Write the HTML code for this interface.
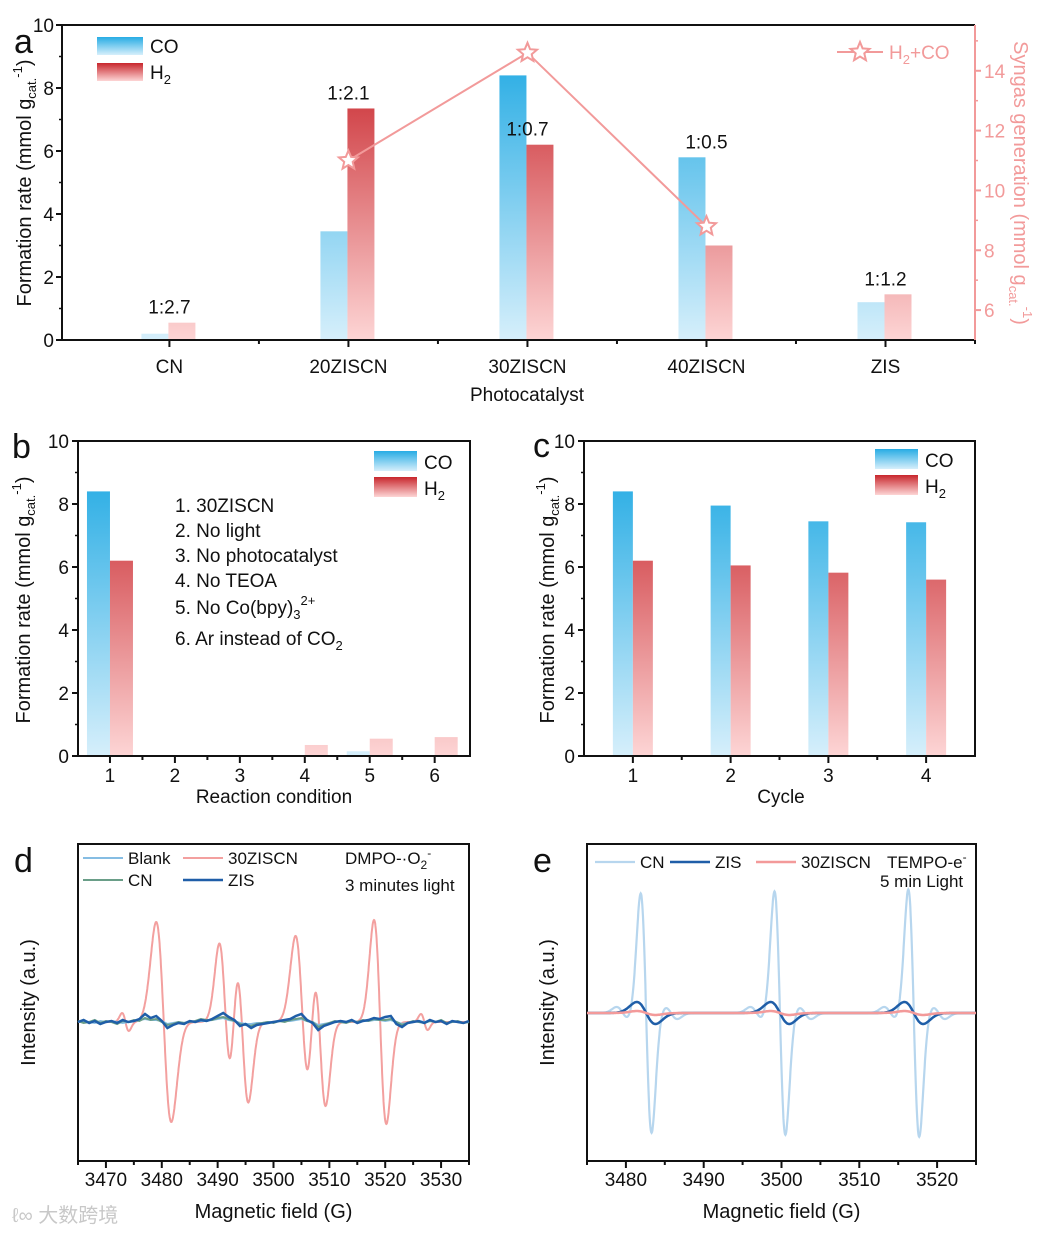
<!DOCTYPE html>
<html><head><meta charset="utf-8"><style>
html,body{margin:0;padding:0;background:#fff;}
svg{display:block;font-family:"Liberation Sans","Noto Sans CJK SC",sans-serif;}
</style></head><body>
<svg id="fig" width="1043" height="1235" viewBox="0 0 1043 1235" xmlns="http://www.w3.org/2000/svg">
<defs>
<linearGradient id="coGradA" gradientUnits="userSpaceOnUse" x1="0" y1="56" x2="0" y2="340"><stop offset="0" stop-color="#27ace4"/><stop offset="1" stop-color="#d6effb"/></linearGradient>
<linearGradient id="h2GradA" gradientUnits="userSpaceOnUse" x1="0" y1="56" x2="0" y2="340"><stop offset="0" stop-color="#c8262c"/><stop offset="1" stop-color="#fdd5d5"/></linearGradient>
<linearGradient id="coGradB" gradientUnits="userSpaceOnUse" x1="0" y1="472" x2="0" y2="756"><stop offset="0" stop-color="#27ace4"/><stop offset="1" stop-color="#d6effb"/></linearGradient>
<linearGradient id="h2GradB" gradientUnits="userSpaceOnUse" x1="0" y1="472" x2="0" y2="756"><stop offset="0" stop-color="#c8262c"/><stop offset="1" stop-color="#fdd5d5"/></linearGradient>
<linearGradient id="coGrad" x1="0" y1="0" x2="0" y2="1"><stop offset="0" stop-color="#27ace4"/><stop offset="1" stop-color="#d6effb"/></linearGradient>
<linearGradient id="h2Grad" x1="0" y1="0" x2="0" y2="1"><stop offset="0" stop-color="#c8262c"/><stop offset="1" stop-color="#fdd5d5"/></linearGradient>
</defs>
</svg>
<script>
// ---------- data ----------
const aCats = ['CN','20ZISCN','30ZISCN','40ZISCN','ZIS'];
const aCO = [0.2, 3.45, 8.4, 5.8, 1.2];
const aH2 = [0.55, 7.35, 6.2, 3.0, 1.45];
const aRatio = ['1:2.7','1:2.1','1:0.7','1:0.5','1:1.2'];
const aSynCats = [1, 2, 3];
const aSyn = [11.0, 14.6, 8.8];
const aYTicks = [0, 2, 4, 6, 8, 10];
const aY2Ticks = [6, 8, 10, 12, 14];

const bCats = ['1','2','3','4','5','6'];
const bCO = [8.4, 0, 0, 0, 0.15, 0];
const bH2 = [6.2, 0, 0, 0.35, 0.55, 0.6];
const bList = ['1. 30ZISCN','2. No light','3. No photocatalyst','4. No TEOA','5. No Co(bpy)','6. Ar instead of CO'];

const cCats = ['1','2','3','4'];
const cCO = [8.4, 7.95, 7.45, 7.42];
const cH2 = [6.2, 6.05, 5.82, 5.6];

const dXTicks = [3470,3480,3490,3500,3510,3520,3530];
const dRedCenters = [3473.5, 3480.35, 3491.4, 3494.4, 3505.2, 3508.3, 3519.1, 3527.0];
const dRedAmps    = [9, 100, 78, 80, 86, 82, 102, 8];
const dRedWidths  = [0.6, 1.35, 1.1, 1.1, 1.25, 1.05, 1.1, 0.6];
const dZIS = [0,2,-1,1,-2,0,1,-1,2,0,1,3, 8,4,6,1,-6,-3,-1,-2,1,0,2, 1,3,6,9,5,2,-4,-2,-6,-3,-2, -1,0,1,2,3,6,8,2,-1,-8,-4, -2,0,1,0,2,-1,1,2,4,3,5, 6,-2,-5,-1,0,1,-1,2,0,1,-2,1,0,-1,1];
const dCN  = [1,-1,0,2,-1,1,0,-2,1,0,2,1, 4,2,3,0,-3,-2,0,-1,0,1,3, 2,2,4,5,3,1,-2,-3,-4,-2,-1, 0,-1,1,0,2,3,4,1,0,-5,-3, -1,1,0,-1,1,0,2,1,3,2,2, 3,0,-3,-1,1,0,-1,1,0,2,-1,0,1,-1,0];
const dBlank=[0,1,0,-1,1,0,1,0,-1,0,1,2, 3,2,2,1,-2,-1,0,-1,1,0,1, 1,2,3,4,2,1,-1,-2,-2,-1,-1, 0,0,1,1,1,2,3,1,0,-3,-2, -1,0,1,0,1,0,1,1,2,2,1, 2,0,-2,-1,0,1,0,1,0,1,-1,0,0,-1,0];

const eXTicks = [3480,3490,3500,3510,3520];
const eCNCenters = [3479.6,3482.6,3485.8, 3496.8,3499.8,3503.0, 3514.0,3517.0,3520.2];
const eCNAmps    = [6,120,6, 6,122,6, 6,124,6];
const eCNWidths  = [0.8,0.7,0.8, 0.8,0.7,0.8, 0.8,0.7,0.8];
const eZISCenters = [3482.6, 3499.8, 3517.0];
const eZISAmps = [11, 11, 11];
const eRedAmps = [2, 2, 2];

// ---------- helpers ----------
const svg = document.getElementById('fig');
const NS = 'http://www.w3.org/2000/svg';
function mk(tag, attrs, parent){
  const e = document.createElementNS(NS, tag);
  for (const k in attrs) e.setAttribute(k, attrs[k]);
  (parent || svg).appendChild(e);
  return e;
}
function txt(x, y, s, size, extra, parent){
  const t = mk('text', Object.assign({x:x, y:y, 'font-size':size, fill:'#111'}, extra||{}), parent);
  t.textContent = s;
  return t;
}
function dG(x, c, a, s){ const d=(x-c)/s; return a*(-d*Math.exp(-d*d/2))/0.6065; }

// ---------- panel a ----------
const A = {l:62, r:975, t:25, b:340};
const yA = v => A.b - v/10*(A.b-A.t);
const y2A = v => A.b - (v-5)/10.53*(A.b-A.t);
const xA = v => A.l + (v+0.6)/5.1*(A.r-A.l);
const ga = mk('g', {});


let e;
e = txt(14, 53, 'a', 34, {}, ga);


aCats.forEach((c,i)=>{
  const cx = xA(i);
  let r = mk('rect',{x:cx-28, y:yA(aCO[i]), width:27, height:yA(0)-yA(aCO[i]), fill:'url(#coGradA)'}, ga);
  
  
  r = mk('rect',{x:cx-1, y:yA(aH2[i]), width:27, height:yA(0)-yA(aH2[i]), fill:'url(#h2GradA)'}, ga);
  
  
  const top = aH2[i] >= aCO[i]*0.7 ? aH2[i] : aCO[i];
  const t = txt(cx, yA(top)-9, aRatio[i], 19, {'text-anchor':'middle'}, ga);
  
  
  const lab = txt(cx, 373, c, 19, {'text-anchor':'middle'}, ga);
  
  
  mk('line',{x1:cx,y1:A.b,x2:cx,y2:A.b+7,stroke:'#111','stroke-width':2}, ga);
  if(i<4) mk('line',{x1:(xA(i)+xA(i+1))/2,y1:A.b,x2:(xA(i)+xA(i+1))/2,y2:A.b+4,stroke:'#111','stroke-width':2}, ga);
});
mk('line',{x1:A.r,y1:A.b,x2:A.r,y2:A.b+4,stroke:'#111','stroke-width':2}, ga);
const synPts = aSynCats.map((c,k)=>[xA(c), y2A(aSyn[k])]);
e = mk('polyline',{points:synPts.map(p=>p.join(',')).join(' '), fill:'none', stroke:'#f29a9a','stroke-width':2}, ga);


function star(cx, cy, R, parent){
  let p=[]; for(let k=0;k<10;k++){ const rr = k%2? R*0.45:R; const a=-Math.PI/2+k*Math.PI/5; p.push((cx+rr*Math.cos(a)).toFixed(1)+','+(cy+rr*Math.sin(a)).toFixed(1)); }
  return mk('polygon',{points:p.join(' '), fill:'#fff', stroke:'#f29a9a','stroke-width':2}, parent);
}
synPts.forEach((p,k)=>{
  const s = star(p[0], p[1], 10, ga);
  
  
});
mk('line',{x1:A.l,y1:A.t,x2:A.r,y2:A.t,stroke:'#111','stroke-width':2}, ga);
e = mk('line',{x1:A.l,y1:A.t,x2:A.l,y2:A.b,stroke:'#111','stroke-width':2}, ga);


e = mk('line',{x1:A.l-1,y1:A.b,x2:A.r+1,y2:A.b,stroke:'#111','stroke-width':2}, ga);


e = mk('line',{x1:A.r,y1:A.t,x2:A.r,y2:A.b,stroke:'#f29a9a','stroke-width':2}, ga);


aYTicks.forEach(v=>{
  mk('line',{x1:A.l-6,y1:yA(v),x2:A.l,y2:yA(v),stroke:'#111','stroke-width':2}, ga);
  if(v<10) mk('line',{x1:A.l-3,y1:yA(v+1),x2:A.l,y2:yA(v+1),stroke:'#111','stroke-width':1.5}, ga);
  const t = txt(A.l-8, yA(v)+7, String(v), 19, {'text-anchor':'end'}, ga);
  
  
});
aY2Ticks.forEach(v=>{
  mk('line',{x1:A.r,y1:y2A(v),x2:A.r+6,y2:y2A(v),stroke:'#f29a9a','stroke-width':2}, ga);
  mk('line',{x1:A.r,y1:y2A(v+1),x2:A.r+3,y2:y2A(v+1),stroke:'#f29a9a','stroke-width':1.5}, ga);
  const t = txt(A.r+9, y2A(v)+7, String(v), 19, {fill:'#f29a9a'}, ga);
  
  
});
e = txt(527, 401, 'Photocatalyst', 19, {'text-anchor':'middle'}, ga);


function yTitle(x, y, parent, name){
  const t = mk('text',{x:0,y:0,'font-size':20,fill:'#111','text-anchor':'middle',transform:`translate(${x},${y}) rotate(-90)`}, parent);
  t.innerHTML = 'Formation rate (mmol g<tspan font-size="13" dy="5">cat.</tspan><tspan font-size="13" dy="-14">-1</tspan><tspan dy="9">)</tspan>';
  
  
  return t;
}
yTitle(31, 183, ga, 'y-axis-title');
e = mk('text',{x:0,y:0,'font-size':20,fill:'#f29a9a','text-anchor':'middle',transform:'translate(1014,183) rotate(90)'}, ga);
e.innerHTML = 'Syngas generation (mmol g<tspan font-size="13" dy="5">cat.</tspan><tspan font-size="13" dy="-14">-1</tspan><tspan dy="9">)</tspan>';


function swatches(x, y1, y2, w, h, parent, prefix){
  let r = mk('rect',{x:x,y:y1,width:w,height:h,fill:'url(#coGrad)'}, parent);
  
  
  let t = txt(x+w+7, y1+h-2, 'CO', 19, {}, parent);
  
  
  r = mk('rect',{x:x,y:y2,width:w,height:h,fill:'url(#h2Grad)'}, parent);
  
  
  t = mk('text',{x:x+w+7,y:y2+h-2,'font-size':19,fill:'#111'}, parent);
  t.innerHTML = 'H<tspan font-size="13" dy="5">2</tspan>';
  
  
}
swatches(97, 37, 63, 46, 18, ga, 'a');
e = mk('line',{x1:837,y1:52,x2:883,y2:52,stroke:'#f29a9a','stroke-width':2}, ga);


star(860, 52, 10, ga);
e = mk('text',{x:889,y:59,'font-size':19,fill:'#f29a9a'}, ga);
e.innerHTML = 'H<tspan font-size="13" dy="5">2</tspan><tspan dy="-5">+CO</tspan>';



// ---------- bar panels b, c ----------
function barPanel(P, cats, co, h2, bw, name){
  const g = mk('g',{});
  
  
  const y = v => P.b - v/10*(P.b-P.t);
  const x = i => P.l + (i+0.5)*(P.r-P.l)/cats.length*P.k + P.off;
  cats.forEach((c,i)=>{
    const cx = x(i);
    if(co[i]>0){ const r = mk('rect',{x:cx-bw,y:y(co[i]),width:bw,height:y(0)-y(co[i]),fill:'url(#coGradB)'}, g);
      
       }
    if(h2[i]>0){ const r = mk('rect',{x:cx,y:y(h2[i]),width:bw,height:y(0)-y(h2[i]),fill:'url(#h2GradB)'}, g);
      
       }
    mk('line',{x1:cx,y1:P.b,x2:cx,y2:P.b+7,stroke:'#111','stroke-width':2}, g);
    if(i<cats.length-1) mk('line',{x1:(cx+x(i+1))/2,y1:P.b,x2:(cx+x(i+1))/2,y2:P.b+4,stroke:'#111','stroke-width':2}, g);
    const t = txt(cx, P.b+26, c, 19, {'text-anchor':'middle'}, g);
    
    
  });
  const f = mk('rect',{x:P.l,y:P.t,width:P.r-P.l,height:P.b-P.t,fill:'none',stroke:'#111','stroke-width':2}, g);
  
  
  aYTicks.forEach(v=>{
    mk('line',{x1:P.l-6,y1:y(v),x2:P.l,y2:y(v),stroke:'#111','stroke-width':2}, g);
    if(v<10) mk('line',{x1:P.l-3,y1:y(v+1),x2:P.l,y2:y(v+1),stroke:'#111','stroke-width':1.5}, g);
    const t = txt(P.l-9, y(v)+7, String(v), 19, {'text-anchor':'end'}, g);
    
    
  });
  return g;
}
const gb = barPanel({l:78,r:470,t:441,b:756,k:0.994,off:-0.5}, bCats, bCO, bH2, 23, 'panel-b');
e = txt(12, 458, 'b', 34, {}, gb);


yTitle(30, 600, gb, 'y-axis-title-b');
e = txt(274, 803, 'Reaction condition', 19, {'text-anchor':'middle'}, gb);


swatches(374, 451, 477, 43, 20, gb, 'b');
const bListY = [512, 537, 562, 587, 614, 645];
bList.forEach((s,i)=>{
  const t = mk('text',{x:175,y:bListY[i],'font-size':19,fill:'#111'}, gb);
  if(i===4) t.innerHTML = s+'<tspan font-size="13" dy="5">3</tspan><tspan font-size="13" dy="-14">2+</tspan>';
  else if(i===5) t.innerHTML = s+'<tspan font-size="13" dy="5">2</tspan>';
  else t.textContent = s;
  
  
});

const gc = barPanel({l:584,r:975,t:441,b:756,k:1,off:0}, cCats, cCO, cH2, 20, 'panel-c');
e = txt(533, 457, 'c', 34, {}, gc);


yTitle(554, 600, gc, 'y-axis-title-c');
e = txt(781, 803, 'Cycle', 19, {'text-anchor':'middle'}, gc);


swatches(875, 449, 475, 43, 20, gc, 'c');

// ---------- EPR panels ----------
function eprFrame(P, ticks, name, letter, lx, ly){
  const g = mk('g',{});
  
  
  const f = mk('rect',{x:P.l,y:P.t,width:P.r-P.l,height:P.b-P.t,fill:'none',stroke:'#111','stroke-width':2}, g);
  
  
  const x = v => P.l + (v-P.x0)/(P.x1-P.x0)*(P.r-P.l);
  ticks.forEach(v=>{
    mk('line',{x1:x(v),y1:P.b,x2:x(v),y2:P.b+7,stroke:'#111','stroke-width':2}, g);
    mk('line',{x1:x(v+5),y1:P.b,x2:x(v+5),y2:P.b+4,stroke:'#111','stroke-width':2}, g);
    const t = txt(x(v), P.b+25, String(v), 19, {'text-anchor':'middle'}, g);
    
    
  });
  mk('line',{x1:x(ticks[0]-5),y1:P.b,x2:x(ticks[0]-5),y2:P.b+4,stroke:'#111','stroke-width':2}, g);
  let t = txt(lx, ly, letter, 34, {}, g);
  
  
  t = mk('text',{x:0,y:0,'font-size':20,fill:'#111','text-anchor':'middle',transform:`translate(${lx+21},${(P.t+P.b)/2}) rotate(-90)`}, g);
  t.textContent = 'Intensity (a.u.)';
  
  
  t = txt((P.l+P.r)/2, P.b+57, 'Magnetic field (G)', 20, {'text-anchor':'middle'}, g);
  
  
  return {g, x};
}
function pathFrom(pts){ return 'M'+pts.map(p=>p[0].toFixed(1)+','+p[1].toFixed(1)).join(' L'); }
function specPts(P, xf, base, centers, amps, widths){
  const pts=[]; for(let f=P.x0; f<=P.x1+1e-6; f+=0.05){ let v=0; for(let k=0;k<centers.length;k++) v+=dG(f,centers[k],amps[k],widths[k]); pts.push([xf(f), base - v]); } return pts;
}
const PD = {l:78,r:469,t:844,b:1161,x0:3465,x1:3535};
const D = eprFrame(PD, dXTicks, 'panel-d', 'd', 14, 872);
const baseD = 1022;
function noiseTrace(arr, color, w, name){
  const pts = arr.map((v,i)=>[D.x(PD.x0+i), baseD - v]);
  const p = mk('path',{d:pathFrom(pts),fill:'none',stroke:color,'stroke-width':w}, D.g);
  
  
}
let p = mk('path',{d:pathFrom(specPts(PD, D.x, baseD, dRedCenters, dRedAmps, dRedWidths)),fill:'none',stroke:'#f3a09f','stroke-width':2}, D.g);


noiseTrace(dBlank, '#86bde3', 2, 'trace-blank');
noiseTrace(dCN, '#6a9e88', 2, 'trace-cn-d');
noiseTrace(dZIS, '#1f5ea8', 2.5, 'trace-zis-d');
function legLine(x1, y, color, w, label, tx, g, name){
  let l = mk('line',{x1:x1,y1:y,x2:x1+40,y2:y,stroke:color,'stroke-width':w}, g);
  
  
  let t = txt(tx, y+6, label, 17, {}, g);
  
  
}
legLine(83, 858, '#86bde3', 2, 'Blank', 128, D.g, 'legend-blank');
legLine(183, 858, '#f3a09f', 2, '30ZISCN', 228, D.g, 'legend-30ziscn-d');
legLine(83, 880, '#6a9e88', 2, 'CN', 128, D.g, 'legend-cn-d');
legLine(183, 880, '#1f5ea8', 2.5, 'ZIS', 228, D.g, 'legend-zis-d');
e = mk('text',{x:345,y:864,'font-size':17,fill:'#111'}, D.g);
e.innerHTML = 'DMPO-·O<tspan font-size="12" dy="5">2</tspan><tspan font-size="12" dy="-12">-</tspan>';


e = txt(345, 891, '3 minutes light', 17, {}, D.g);



const PE = {l:587,r:976,t:844,b:1161,x0:3475,x1:3525};
const E = eprFrame(PE, eXTicks, 'panel-e', 'e', 533, 872);
const baseE = 1013;
const wZ = eZISCenters.map(()=>1.2);
p = mk('path',{d:pathFrom(specPts(PE, E.x, baseE, eCNCenters, eCNAmps, eCNWidths)),fill:'none',stroke:'#b7d6ee','stroke-width':2.2}, E.g);


p = mk('path',{d:pathFrom(specPts(PE, E.x, baseE, eZISCenters, eZISAmps, wZ)),fill:'none',stroke:'#1f5ea8','stroke-width':2.5}, E.g);


p = mk('path',{d:pathFrom(specPts(PE, E.x, baseE, eZISCenters, eRedAmps, wZ)),fill:'none',stroke:'#f39a9a','stroke-width':2.5}, E.g);


legLine(595, 862, '#b7d6ee', 2.2, 'CN', 640, E.g, 'legend-cn-e');
legLine(670, 862, '#1f5ea8', 2.5, 'ZIS', 715, E.g, 'legend-zis-e');
legLine(756, 862, '#f39a9a', 2.5, '30ZISCN', 801, E.g, 'legend-30ziscn-e');
e = mk('text',{x:887,y:868,'font-size':17,fill:'#111'}, E.g);
e.innerHTML = 'TEMPO-e<tspan font-size="12" dy="-7">-</tspan>';


e = txt(880, 887, '5 min Light', 17, {}, E.g);



e = txt(12, 1222, 'ℓ∞ 大数跨境', 20, {fill:'#c8c8c8'});


</script>
</body></html>
